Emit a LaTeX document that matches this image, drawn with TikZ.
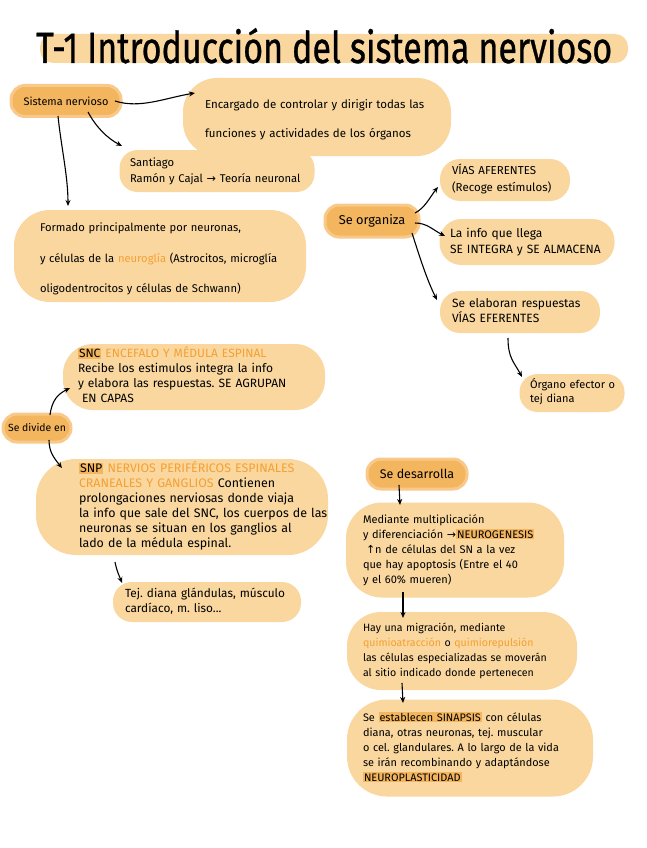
\documentclass[tikz,border=0pt]{standalone}
\usepackage{fontspec}
\usepackage{graphicx}
\setmainfont{Fira Sans}
\newfontfamily\symf{DejaVu Sans}
\newfontfamily\titlef[FakeBold=0.8]{Fira Sans}
\frenchspacing
\usetikzlibrary{arrows.meta,calc}
\definecolor{lightor}{HTML}{F9D79F}
\definecolor{darkor}{HTML}{F3B55E}
\definecolor{haloor}{HTML}{F8C98A}
\definecolor{ortext}{HTML}{F5A033}
\newcommand\blk[1]{\begin{tabular}{@{}l@{}}#1\end{tabular}}
\newcommand\hlt[1]{{\setlength{\fboxsep}{1pt}\colorbox{darkor}{#1}}}
\newcommand\ot[1]{\textcolor{ortext}{#1}}
\newcommand\fs[2]{\fontsize{#1}{#2}\selectfont}
\tikzset{
  blob/.style={fill=lightor, rounded corners=#1, inner xsep=0pt, inner ysep=0pt, align=left},
  blob/.default=18pt,
  darkblob/.style={fill=darkor, draw=haloor, line width=3pt, rounded corners=14pt, inner sep=0pt, align=center},
  arr/.style={draw=black, line width=1.1pt, -{Stealth[length=6pt,width=5pt]}}
}
\begin{document}
\begin{tikzpicture}[x=1pt,y=-1pt]
\useasboundingbox (0,0) rectangle (646,848);
% title
\fill[lightor, rounded corners=13pt] (40,34) rectangle (628,63);
\node[anchor=base west, inner sep=0pt] (title) at (36,63) {\resizebox{576pt}{35pt}{\titlef T-1 Introducción del sistema nervioso}};

% nodes
\node[darkblob, minimum width=110pt, minimum height=31pt, font=\fs{10.9}{12}] (sn) at (66,101) {Sistema nervioso};
\node[blob=34pt, minimum width=268pt, minimum height=78pt, text width=224pt, font=\fs{11.5}{29}] (enc) at (317,117)
  {\blk{Encargado de controlar y dirigir todas las\\ funciones y actividades de los órganos}};
\node[blob=18pt, minimum width=195pt, minimum height=42pt, text width=174pt, font=\fs{11.2}{16}] (san) at (217,171)
  {\blk{Santiago\\ Ramón y Cajal {\symf→} Teoría neuronal}};
\node[blob=36pt, minimum width=292pt, minimum height=92pt, text width=240pt, font=\fs{11.2}{30.5}] (form) at (160,256)
  {\blk{Formado principalmente por neuronas,\\ y células de la \ot{neuroglía} (Astrocitos, microglía\\ oligodentrocitos y células de Schwann)}};
\node[darkblob, minimum width=94pt, minimum height=32pt, font=\fs{12.8}{14}] (seorg) at (372,221) {Se organiza};
\node[blob=20pt, minimum width=130pt, minimum height=42pt, text width=106pt, font=\fs{11.5}{17}] (aff) at (505,180)
  {\blk{VÍAS AFERENTES\\ (Recoge estímulos)}};
\node[blob=22pt, minimum width=175pt, minimum height=46pt, text width=154pt, font=\fs{12}{16}] (info) at (527,242)
  {\blk{La info que llega\\ SE INTEGRA y SE ALMACENA}};
\node[blob=20pt, minimum width=160pt, minimum height=42pt, text width=136pt, font=\fs{12}{14}] (elab) at (520,312)
  {\blk{Se elaboran respuestas\\ VÍAS EFERENTES}};
\node[blob=18pt, minimum width=105pt, minimum height=38pt, text width=84pt, font=\fs{11}{14}] (organo) at (572,393)
  {\blk{Órgano efector o\\ tej diana}};
\node[blob=30pt, minimum width=262pt, minimum height=66pt, text width=232pt, font=\fs{12}{15}] (snc) at (194,377)
  {\blk{\hlt{SNC} \ot{ENCEFALO Y MÉDULA ESPINAL}\\ Recibe los estimulos integra la info\\ y elabora las respuestas. SE AGRUPAN\\ \hspace{4pt}EN CAPAS}};
\node[darkblob, minimum width=68pt, minimum height=28pt, font=\fs{10.4}{12}] (sediv) at (37,428) {Se divide en};
\node[blob=40pt, minimum width=292pt, minimum height=96pt, text width=206pt, font=\fs{12.4}{15}] (snp) at (182,507)
  {\blk{\hlt{SNP} \ot{NERVIOS PERIFÉRICOS ESPINALES}\\ \ot{CRANEALES Y GANGLIOS} Contienen\\ prolongaciones nerviosas donde viaja\\ la info que sale del SNC, los cuerpos de las\\ neuronas se situan en los ganglios al\\ lado de la médula espinal.}};
\node[blob=19pt, minimum width=188pt, minimum height=40pt, text width=164pt, font=\fs{11.8}{15}] (tej) at (207,602)
  {\blk{Tej. diana glándulas, músculo\\ cardíaco, m. liso...}};
\node[darkblob, minimum width=100pt, minimum height=30pt, font=\fs{12.5}{14}] (desarr) at (417,474) {Se desarrolla};
\node[blob=36pt, minimum width=218pt, minimum height=95pt, text width=184pt, font=\fs{11}{15}] (med) at (455,550)
  {\blk{Mediante multiplicación\\ y diferenciación {\symf→}\hlt{NEUROGENESIS}\\ \hspace{3pt}{\symf↑}n de células del SN a la vez\\ que hay apoptosis (Entre el 40\\ y el 60\% mueren)}};
\node[blob=34pt, minimum width=230pt, minimum height=78pt, text width=198pt, font=\fs{10.6}{15}] (hay) at (462,651)
  {\blk{Hay una migración, mediante\\ \ot{quimioatracción} o \ot{quimiorepulsión}\\ las células especializadas se moverán\\ al sitio indicado donde pertenecen}};
\node[blob=40pt, minimum width=246pt, minimum height=97pt, text width=214pt, font=\fs{10.9}{15}] (setab) at (470,748)
  {\blk{Se \hlt{establecen SINAPSIS} con células\\ diana, otras neuronas, tej. muscular\\ o cel. glandulares. A lo largo de la vida\\ se irán recombinando y adaptándose\\ \hlt{NEUROPLASTICIDAD}}};

% connectors
\draw[arr] ($(sn)+(49,0)$) .. controls +(25,8) and +(-30,5) .. ($(enc)+(-122,-24)$);
\draw[arr] ($(sn)+(22,11)$) .. controls +(8,15) and +(-15,-8) .. ($(san)+(-95,-25)$);
\draw[arr] ($(sn)+(-8,15)$) .. controls +(3,30) and +(0,-30) .. ($(form)+(-92,-50)$);
\draw[arr] ($(seorg)+(43,-8)$) .. controls +(10,-5) and +(-8,10) .. ($(aff)+(-67,7)$);
\draw[arr] ($(seorg)+(43,2)$) .. controls +(12,0) and +(-12,-6) .. ($(info)+(-82,-6)$);
\draw[arr] ($(seorg)+(40,12)$) .. controls +(8,25) and +(-10,-20) .. ($(elab)+(-83,-12)$);
\draw[arr] ($(elab)+(-12,26)$) .. controls +(0,20) and +(-8,-15) .. ($(organo)+(-50,-16)$);
\draw[arr] ($(sediv)+(13,-13)$) .. controls +(2,-15) and +(-12,6) .. ($(snc)+(-124,11)$);
\draw[arr] ($(sediv)+(12,12)$) .. controls +(0,12) and +(-8,-10) .. ($(snp)+(-120,-39)$);
\draw[arr] ($(snp)+(-67,55)$) .. controls +(2,10) and +(-3,-8) .. ($(tej)+(-85,-19)$);
\draw[arr] ($(desarr)+(-18,11)$) -- ($(med)+(-55,-45)$);
\draw[arr] ($(med)+(-52,42)$) -- ($(hay)+(-59,-33)$);
\draw[arr] ($(hay)+(-60,32)$) -- ($(setab)+(-67,-45)$);
\end{tikzpicture}
\end{document}
